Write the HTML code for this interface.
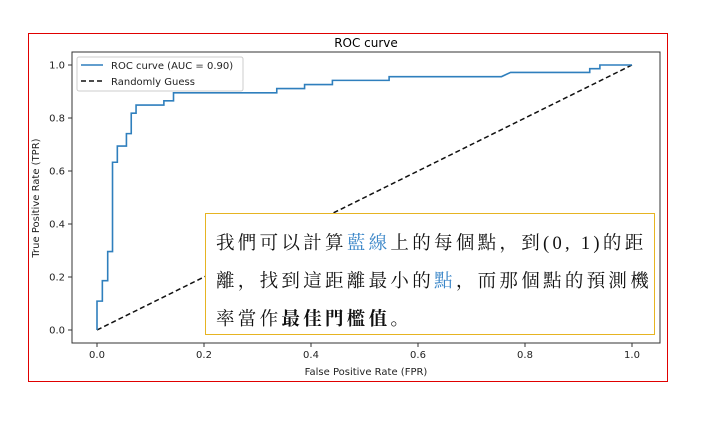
<!DOCTYPE html>
<html><head><meta charset="utf-8"><style>
body{margin:0;background:#fff;width:706px;height:425px;overflow:hidden;position:relative;font-family:"DejaVu Sans","Liberation Sans",sans-serif}
#frame{position:absolute;left:28px;top:33px;width:640px;height:349px;border:1px solid #e00000;box-sizing:border-box}
#note{position:absolute;left:205px;top:213px;width:450px;height:122px;border:1px solid #e6b422;background:#fff;box-sizing:border-box;padding:11px 0 0 10px;font-family:"Liberation Serif","Noto Serif CJK SC","Noto Sans CJK TC",serif;font-size:18.5px;line-height:38px;color:#111;letter-spacing:3.3px;white-space:nowrap}
.b{color:#3a86c8}
</style></head><body>
<div id="frame"></div>
<svg id="chart" width="706" height="425" style="position:absolute;left:0;top:0"></svg>
<div id="note">我們可以計算<span class="b">藍線</span>上的每個點，到(0,&nbsp;1)的距<br>離，找到這距離最小的<span class="b">點</span>，而那個點的預測機<br>率當作<b>最佳門檻值</b>。</div>
<script>
const fprValues=[0,0,0.01,0.01,0.02,0.02,0.029,0.029,0.038,0.038,0.055,0.055,0.064,0.064,0.073,0.073,0.125,0.125,0.143,0.143,0.336,0.336,0.388,0.388,0.44,0.44,0.546,0.546,0.756,0.773,0.921,0.921,0.94,0.94,1.0];
const tprValues=[0,0.109,0.109,0.186,0.186,0.296,0.296,0.633,0.633,0.694,0.694,0.741,0.741,0.818,0.818,0.849,0.849,0.865,0.865,0.895,0.895,0.911,0.911,0.926,0.926,0.942,0.942,0.956,0.956,0.972,0.972,0.986,0.986,1.0,1.0];
const tickValues=[0,0.2,0.4,0.6,0.8,1.0];
const tickLabels=["0.0","0.2","0.4","0.6","0.8","1.0"];
const NS="http://www.w3.org/2000/svg";
const svg=document.getElementById('chart');
const xS=v=>97+v*535, yS=v=>330-v*265;
function mk(t,a){const e=document.createElementNS(NS,t);for(const k in a)e.setAttribute(k,a[k]);svg.appendChild(e);return e;}
let ax=mk('rect',{x:72,y:52,width:588,height:291,fill:'none',stroke:'#333','stroke-width':1});


let t=mk('text',{x:366,y:47,'font-size':12,'text-anchor':'middle',fill:'#000'});t.textContent='ROC curve';


tickValues.forEach((v,i)=>{
  let l=mk('line',{x1:xS(v),x2:xS(v),y1:343,y2:347,stroke:'#333'});
  
  
  let tx=mk('text',{x:xS(v),y:358,'font-size':10,'text-anchor':'middle',fill:'#222'});tx.textContent=tickLabels[i];
  
  
  let l2=mk('line',{x1:68,x2:72,y1:yS(v),y2:yS(v),stroke:'#333'});
  
  
  let ty=mk('text',{x:65,y:yS(v)+3.5,'font-size':10,'text-anchor':'end',fill:'#222'});ty.textContent=tickLabels[i];
  
  
});
let xt=mk('text',{x:366,y:375,'font-size':10,'text-anchor':'middle',fill:'#222'});xt.textContent='False Positive Rate (FPR)';


let yt=mk('text',{x:0,y:0,'font-size':10,'text-anchor':'middle',fill:'#222',transform:'translate(39,198) rotate(-90)'});yt.textContent='True Positive Rate (TPR)';


let dl=mk('line',{x1:xS(0),y1:yS(0),x2:xS(1),y2:yS(1),stroke:'#111','stroke-width':1.5,'stroke-dasharray':'5,3'});


let p=mk('polyline',{points:fprValues.map((f,i)=>xS(f)+','+yS(tprValues[i])).join(' '),fill:'none',stroke:'#2f7fbd','stroke-width':1.6});


let lg=mk('rect',{x:77,y:57,width:166,height:34,fill:'#fff',stroke:'#ccc',rx:2});


mk('line',{x1:81,x2:103,y1:65,y2:65,stroke:'#2f7fbd','stroke-width':1.6});
let l1=mk('text',{x:111,y:69,'font-size':10,fill:'#222'});l1.textContent='ROC curve (AUC = 0.90)';


mk('line',{x1:81,x2:103,y1:81,y2:81,stroke:'#111','stroke-width':1.5,'stroke-dasharray':'5,3'});
let l3=mk('text',{x:111,y:85,'font-size':10,fill:'#222'});l3.textContent='Randomly Guess';


</script>
</body></html>
